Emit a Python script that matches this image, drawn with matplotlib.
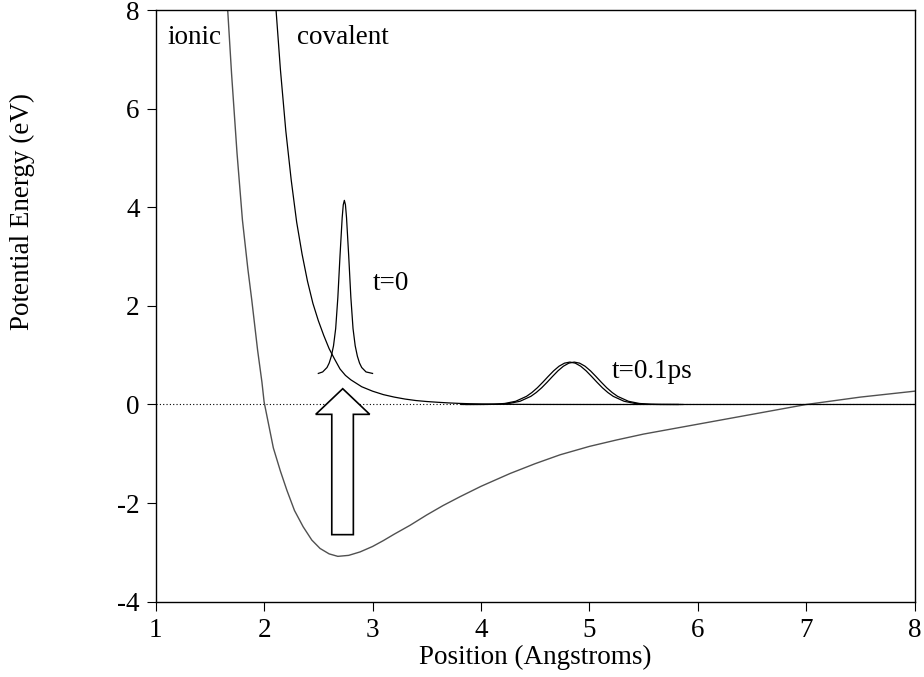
import matplotlib
matplotlib.use("Agg")
import matplotlib.pyplot as plt
from matplotlib.patches import Polygon

plt.rcParams['font.family'] = ['Liberation Serif', 'DejaVu Serif']
plt.rcParams['axes.unicode_minus'] = False

# ionic potential curve
ionic_x = [1.64, 1.664, 1.70, 1.75, 1.80, 1.85, 1.886, 1.94, 1.98, 2.00, 2.085,
           2.15, 2.21, 2.28, 2.36, 2.44, 2.516, 2.60, 2.68, 2.78, 2.885, 3.00,
           3.10, 3.20, 3.346, 3.50, 3.65, 3.807, 4.00, 4.268, 4.50, 4.73, 5.00,
           5.25, 5.50, 5.75, 6.00, 6.50, 7.00, 7.50, 8.00]
ionic_y = [9.0, 8.0, 6.7, 5.1, 3.74, 2.75, 2.12, 1.10, 0.45, 0.05, -0.88,
           -1.35, -1.74, -2.15, -2.48, -2.75, -2.92, -3.03, -3.08, -3.06, -2.99, -2.88,
           -2.76, -2.63, -2.45, -2.24, -2.05, -1.87, -1.66, -1.40, -1.20, -1.02, -0.85,
           -0.72, -0.60, -0.50, -0.40, -0.20, 0.0, 0.15, 0.27]

# covalent potential curve
cov_x = [2.08, 2.11, 2.15, 2.20, 2.25, 2.30, 2.35, 2.40, 2.45, 2.50, 2.55, 2.60,
         2.65, 2.70, 2.75, 2.80, 2.90, 3.00, 3.10, 3.20, 3.30, 3.40, 3.50, 3.60,
         3.70, 3.80, 3.90, 4.00, 4.20, 4.50, 5.00, 8.00]
cov_y = [9.0, 8.0, 6.8, 5.55, 4.55, 3.7, 3.05, 2.5, 2.05, 1.7, 1.4, 1.13,
         0.92, 0.72, 0.59, 0.50, 0.36, 0.27, 0.20, 0.15, 0.11, 0.08, 0.06, 0.045,
         0.032, 0.022, 0.015, 0.01, 0.004, 0.001, 0.0, 0.0]

# wave packet at t=0
wp0_x = [2.50, 2.54, 2.58, 2.60, 2.62, 2.64, 2.66, 2.68, 2.70, 2.72, 2.73, 2.74,
         2.75, 2.76, 2.78, 2.80, 2.82, 2.84, 2.86, 2.88, 2.90, 2.94, 3.00]
wp0_y = [0.63, 0.66, 0.75, 0.84, 0.98, 1.19, 1.54, 2.17, 3.02, 3.79, 4.05, 4.14,
         4.05, 3.79, 3.02, 2.17, 1.54, 1.19, 0.98, 0.84, 0.75, 0.66, 0.63]

# two wave packets at t=0.1ps
wpa_x = [3.82, 4.02, 4.12, 4.22, 4.32, 4.42, 4.47, 4.52, 4.57, 4.62, 4.67, 4.72,
         4.77, 4.82, 4.87, 4.92, 4.97, 5.02, 5.07, 5.12, 5.17, 5.22, 5.32, 5.42,
         5.52, 5.62, 5.82]
wpa_y = [0.0, 0.001, 0.005, 0.021, 0.065, 0.165, 0.243, 0.339, 0.451, 0.569, 0.682, 0.776,
         0.838, 0.86, 0.838, 0.776, 0.682, 0.569, 0.451, 0.339, 0.243, 0.165, 0.065, 0.021,
         0.005, 0.001, 0.0]
wpb_x = [3.86, 4.06, 4.16, 4.26, 4.36, 4.46, 4.51, 4.56, 4.61, 4.66, 4.71, 4.76,
         4.81, 4.86, 4.91, 4.96, 5.01, 5.06, 5.11, 5.16, 5.21, 5.26, 5.36, 5.46,
         5.56, 5.66, 5.86]
wpb_y = wpa_y

# excitation arrow outline
arrow_x = [2.624, 2.624, 2.476, 2.725, 2.974, 2.823, 2.823]
arrow_y = [-2.64, -0.20, -0.20, 0.32, -0.20, -0.20, -2.64]

FS = 19.5

fig = plt.figure(figsize=(9.24, 6.77), dpi=100)
ax = fig.add_axes([0.1685, 0.1112, 0.8214, 0.874])

ax.axhline(0, color='black', lw=0.8, ls=(0, (1, 2)), zorder=1)
ax.plot(ionic_x, ionic_y, color='#505050', lw=1.0, zorder=2)
ax.plot(cov_x, cov_y, color='black', lw=0.9, zorder=3)
ax.plot(wp0_x, wp0_y, color='black', lw=0.9, zorder=3)
ax.plot(wpa_x, wpa_y, color='black', lw=0.9, zorder=3)
ax.plot(wpb_x, wpb_y, color='black', lw=0.9, zorder=3)
ax.add_patch(Polygon(list(zip(arrow_x, arrow_y)), closed=True,
                     facecolor='white', edgecolor='black', lw=1.2, zorder=4))

ax.text(1.107, 7.32, "ionic", fontsize=FS)
ax.text(2.30, 7.32, "covalent", fontsize=FS)
ax.text(3.00, 2.33, "t=0", fontsize=FS)
ax.text(5.21, 0.53, "t=0.1ps", fontsize=FS)

ax.set_xlim(1, 8)
ax.set_ylim(-4, 8)
ax.set_xticks(range(1, 9))
ax.set_yticks(range(-4, 9, 2))
ax.tick_params(labelsize=FS, length=6.5, width=0.8, direction='out')
ax.tick_params(axis='x', pad=5)
ax.tick_params(axis='y', pad=5)
for s in ax.spines.values():
    s.set_linewidth(1.0)

fig.text(535 / 924, 1 - 657 / 677, "Position (Angstroms)", fontsize=FS,
         ha='center', va='center')
fig.text(22 / 924, 1 - 212 / 677, "Potential Energy (eV)", fontsize=FS,
         rotation=90, ha='center', va='center')

fig.savefig("out.png", dpi=100)
